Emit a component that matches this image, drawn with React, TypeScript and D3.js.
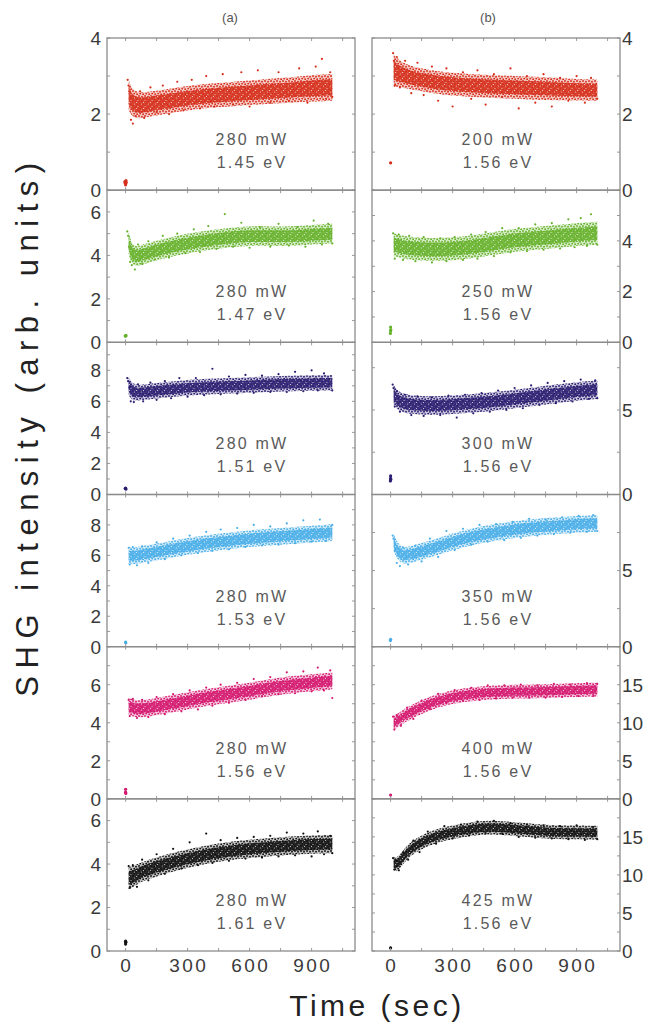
import React, { useRef, useEffect } from "react";
import * as d3 from "d3";

// time knots (sec) where the centre / half-width of each cloud was read
const knots = [15, 30, 60, 100, 200, 300, 400, 500, 600, 700, 800, 900, 1000];
const timeTicks = [0, 300, 600, 900];

// column (a): 280 mW, photon energy varies
const midA1 = [2.5, 2.3, 2.22, 2.25, 2.33, 2.42, 2.48, 2.52, 2.56, 2.6, 2.63, 2.68, 2.7];
const spreadA1 = [0.4, 0.35, 0.35, 0.33, 0.32, 0.32, 0.32, 0.32, 0.32, 0.33, 0.33, 0.35, 0.35];
const dotsA1 = [[10,2.9],[14,2.75],[18,2.6],[22,2.45],[26,1.85],[35,1.75],[48,1.95],[70,2.6],[90,1.9],[120,2.7],[150,2.05],[180,2.75],[210,2.0],[250,2.85],[280,2.1],[320,2.9],[360,2.15],[390,3.0],[430,2.2],[470,3.05],[520,2.25],[560,3.1],[600,2.2],[640,3.15],[700,2.3],[740,3.1],[790,2.35],[840,3.2],[880,2.3],[920,3.25],[950,3.45],[970,2.4],[990,3.1],[1000,2.45]];
const bgA1 = [[-4,0.22],[-1,0.18],[2,0.25],[0,0.14],[3,0.2]];

const midA2 = [4.6, 4.0, 3.95, 4.1, 4.35, 4.55, 4.7, 4.82, 4.9, 4.88, 4.88, 4.95, 5.0];
const spreadA2 = [0.55, 0.45, 0.45, 0.45, 0.45, 0.45, 0.45, 0.45, 0.45, 0.45, 0.45, 0.45, 0.45];
const dotsA2 = [[8,5.1],[12,4.9],[16,4.4],[22,3.7],[30,3.55],[45,3.35],[60,4.5],[80,3.6],[110,4.65],[140,3.8],[180,4.9],[210,3.9],[250,5.0],[290,4.1],[330,5.2],[360,4.15],[400,5.35],[440,4.3],[480,5.9],[520,4.4],[560,5.5],[600,4.35],[650,5.3],[700,4.4],[740,5.45],[790,4.45],[830,5.3],[870,4.4],[910,5.6],[950,4.5],[980,5.45],[1000,4.55]];
const bgA2 = [[-2,0.3],[0,0.28],[2,0.32]];

const midA3 = [7.0, 6.6, 6.55, 6.6, 6.75, 6.88, 6.95, 7.0, 7.05, 7.1, 7.15, 7.18, 7.2];
const spreadA3 = [0.6, 0.55, 0.5, 0.5, 0.5, 0.5, 0.5, 0.5, 0.5, 0.5, 0.5, 0.5, 0.5];
const dotsA3 = [[8,7.5],[12,7.3],[18,6.9],[25,6.0],[40,5.95],[60,7.1],[85,6.0],[120,7.2],[150,6.1],[190,7.3],[220,6.2],[260,7.5],[300,6.3],[340,7.5],[380,6.4],[420,8.1],[460,6.45],[500,7.6],[540,6.5],[580,7.7],[620,6.55],[660,7.65],[700,6.6],[740,7.75],[780,6.6],[820,7.9],[860,6.65],[900,8.0],[930,6.7],[960,7.8],[1000,6.7]];
const bgA3 = [[-2,0.38],[0,0.42],[2,0.35]];

const midA4 = [6.0, 5.95, 6.0, 6.1, 6.35, 6.6, 6.8, 6.95, 7.1, 7.2, 7.3, 7.4, 7.5];
const spreadA4 = [0.55, 0.55, 0.55, 0.55, 0.55, 0.55, 0.55, 0.55, 0.55, 0.55, 0.55, 0.55, 0.55];
const dotsA4 = [[15,6.5],[20,5.4],[35,6.55],[55,5.35],[80,6.6],[110,5.5],[150,6.85],[190,5.75],[230,7.1],[270,6.0],[310,7.3],[350,6.15],[390,7.55],[420,6.3],[460,7.7],[500,6.4],[540,7.8],[580,6.55],[620,8.0],[660,6.65],[700,7.9],[740,6.7],[780,8.1],[820,6.8],[860,8.3],[900,6.9],[940,8.35],[970,6.95],[1000,8.0]];
const bgA4 = [[0,0.3],[1,0.25]];

const midA5 = [4.85, 4.8, 4.72, 4.75, 4.95, 5.15, 5.35, 5.5, 5.65, 5.85, 6.0, 6.1, 6.2];
const spreadA5 = [0.45, 0.45, 0.45, 0.45, 0.45, 0.45, 0.45, 0.45, 0.45, 0.45, 0.45, 0.45, 0.45];
const dotsA5 = [[15,5.2],[20,4.35],[35,5.25],[55,4.25],[80,5.2],[110,4.3],[150,5.35],[190,4.45],[230,5.5],[270,4.6],[310,5.7],[350,4.7],[390,5.85],[420,4.9],[460,6.0],[500,5.05],[540,6.1],[580,5.2],[620,6.3],[660,5.4],[700,6.4],[740,5.5],[780,6.65],[820,5.55],[860,6.7],[900,5.65],[930,6.9],[960,5.7],[990,6.75],[1000,5.3]];
const bgA5 = [[0,0.35],[0,0.5],[1,0.28]];

const midA6 = [3.35, 3.4, 3.55, 3.72, 4.02, 4.25, 4.45, 4.6, 4.7, 4.78, 4.85, 4.9, 4.92];
const spreadA6 = [0.5, 0.5, 0.45, 0.45, 0.43, 0.42, 0.42, 0.42, 0.42, 0.42, 0.42, 0.42, 0.42];
const dotsA6 = [[15,3.9],[20,2.9],[35,3.95],[55,2.95],[80,4.2],[110,3.25],[150,4.45],[190,3.55],[230,4.7],[270,3.8],[310,5.0],[350,3.95],[390,5.4],[420,4.05],[460,5.1],[500,4.15],[540,5.2],[580,4.25],[620,5.25],[660,4.3],[700,5.3],[740,4.35],[780,5.45],[820,4.4],[860,5.4],[900,4.35],[930,5.5],[960,4.45],[990,5.3],[1000,4.5]];
const bgA6 = [[0,0.32],[0,0.45],[1,0.4]];

// column (b): 1.56 eV, power varies
const midB1 = [3.15, 3.1, 3.02, 2.95, 2.85, 2.78, 2.75, 2.72, 2.7, 2.68, 2.66, 2.64, 2.63];
const spreadB1 = [0.42, 0.38, 0.33, 0.3, 0.3, 0.3, 0.3, 0.3, 0.3, 0.3, 0.3, 0.28, 0.28];
const dotsB1 = [[12,3.6],[16,3.4],[20,2.75],[30,3.5],[45,2.7],[70,3.4],[100,2.55],[130,3.35],[160,2.5],[200,3.25],[230,2.35],[270,3.2],[300,2.2],[350,3.1],[390,2.4],[420,3.15],[460,2.25],[500,3.05],[540,2.45],[580,3.2],[620,2.15],[660,3.0],[700,2.3],[740,3.05],[780,2.2],[820,2.95],[860,2.35],[900,3.0],[940,2.3],[970,2.95],[1000,2.4]];
const bgB1 = [[0,0.72]];

const midB2 = [3.85, 3.82, 3.75, 3.7, 3.65, 3.68, 3.77, 3.9, 4.03, 4.1, 4.17, 4.25, 4.3];
const spreadB2 = [0.45, 0.45, 0.45, 0.45, 0.45, 0.45, 0.45, 0.45, 0.45, 0.45, 0.45, 0.45, 0.45];
const dotsB2 = [[12,4.3],[20,3.3],[40,4.25],[60,3.25],[90,4.2],[120,3.2],[160,4.15],[200,3.15],[240,4.1],[270,3.2],[310,4.15],[350,3.25],[390,4.25],[420,3.3],[460,4.35],[500,3.4],[540,4.5],[580,3.55],[620,4.5],[660,3.6],[700,4.65],[740,3.65],[780,4.7],[820,3.7],[860,4.85],[890,3.75],[920,4.9],[950,3.8],[970,5.05],[1000,3.85]];
const bgB2 = [[-1,0.35],[0,0.45],[0,0.6],[1,0.5]];

const midB3 = [5.9, 5.6, 5.4, 5.3, 5.25, 5.3, 5.4, 5.5, 5.65, 5.8, 5.95, 6.1, 6.2];
const spreadB3 = [0.6, 0.55, 0.55, 0.55, 0.55, 0.55, 0.55, 0.55, 0.55, 0.55, 0.55, 0.55, 0.55];
const dotsB3 = [[10,6.5],[14,6.3],[20,5.2],[30,6.1],[45,4.9],[70,5.9],[100,4.7],[130,5.8],[160,4.65],[200,5.75],[240,4.7],[280,5.85],[320,4.55],[360,5.9],[400,4.8],[440,6.0],[480,4.9],[520,6.15],[560,5.0],[600,6.3],[640,5.1],[680,6.45],[720,5.3],[760,6.6],[800,5.4],[840,6.7],[880,5.5],[920,6.8],[960,5.65],[990,6.75],[1000,5.7]];
const bgB3 = [[-1,0.8],[0,0.95],[0,1.1],[1,0.88]];

const midB4 = [6.9, 6.3, 5.95, 6.05, 6.45, 6.9, 7.25, 7.5, 7.7, 7.85, 7.95, 8.05, 8.1];
const spreadB4 = [0.55, 0.55, 0.55, 0.55, 0.55, 0.55, 0.55, 0.55, 0.55, 0.55, 0.55, 0.55, 0.55];
const dotsB4 = [[10,7.3],[14,7.1],[20,6.3],[30,5.5],[45,5.3],[60,6.5],[85,5.4],[120,6.65],[150,5.6],[190,7.1],[230,5.9],[270,7.6],[310,6.35],[350,7.75],[390,6.7],[430,8.0],[470,6.9],[510,8.05],[550,7.0],[590,8.2],[630,7.15],[670,8.4],[710,7.3],[750,8.35],[790,7.4],[830,8.5],[870,7.5],[910,8.6],[950,7.55],[980,8.65],[1000,7.6]];
const bgB4 = [[-1,0.4],[0,0.48]];

const midB5 = [10.0, 10.2, 10.8, 11.4, 12.7, 13.4, 13.8, 14.0, 14.1, 14.1, 14.2, 14.3, 14.35];
const spreadB5 = [0.9, 0.9, 0.9, 0.9, 0.9, 0.9, 0.9, 0.9, 0.9, 0.9, 0.9, 0.9, 0.9];
const dotsB5 = [[12,10.8],[18,9.1],[30,11.0],[50,9.6],[80,12.0],[110,10.5],[150,12.9],[190,11.8],[230,13.8],[270,12.6],[310,14.3],[350,12.9],[390,14.6],[430,13.0],[470,14.9],[510,13.2],[550,14.9],[590,13.3],[630,15.0],[670,13.3],[710,14.9],[750,13.3],[790,15.1],[830,13.4],[870,15.0],[910,13.5],[950,15.2],[980,13.5],[1000,15.1]];
const bgB5 = [[0,0.5]];

const midB6 = [11.5, 11.3, 12.3, 13.6, 15.0, 15.6, 16.1, 16.3, 16.0, 15.8, 15.6, 15.6, 15.55];
const spreadB6 = [0.9, 0.9, 0.9, 0.9, 0.9, 0.9, 0.9, 0.9, 0.9, 0.9, 0.9, 0.9, 0.9];
const dotsB6 = [[12,12.2],[18,10.7],[28,11.9],[40,10.6],[60,12.9],[85,12.0],[110,14.5],[140,13.0],[180,15.7],[220,14.1],[260,16.4],[300,14.8],[340,16.6],[380,15.2],[420,17.0],[460,15.5],[500,17.1],[540,15.4],[580,16.8],[620,15.0],[660,16.6],[700,14.9],[740,16.5],[780,14.8],[820,16.4],[860,14.7],[900,16.5],[940,14.6],[980,16.3],[1000,14.7]];
const bgB6 = [[0,0.4]];

const colors = ["#d52e1a", "#66b22c", "#2a1c70", "#4aaee8", "#d4186f", "#111111"];
const powers = ["280 mW", "280 mW", "280 mW", "280 mW", "280 mW", "280 mW", "200 mW", "250 mW", "300 mW", "350 mW", "400 mW", "425 mW"];
const energies = ["1.45 eV", "1.47 eV", "1.51 eV", "1.53 eV", "1.56 eV", "1.61 eV", "1.56 eV", "1.56 eV", "1.56 eV", "1.56 eV", "1.56 eV", "1.56 eV"];
const yMaxes = [4, 7, 9.8, 10, 8, 7, 4, 6, 9, 10, 20, 20];
const yLabelTicks = [[0,2,4],[0,2,4,6],[0,2,4,6,8],[0,2,4,6,8],[0,2,4,6],[0,2,4,6],[0,2,4],[0,2,4],[0,5],[0,5],[0,5,10,15],[0,5,10,15]];
const yMinorSteps = [1, 1, 1, 1, 1, 1, 1, 1, 2.5, 2.5, 2.5, 2.5];

const mids = [midA1, midA2, midA3, midA4, midA5, midA6, midB1, midB2, midB3, midB4, midB5, midB6];
const spreads = [spreadA1, spreadA2, spreadA3, spreadA4, spreadA5, spreadA6, spreadB1, spreadB2, spreadB3, spreadB4, spreadB5, spreadB6];
const dots = [dotsA1, dotsA2, dotsA3, dotsA4, dotsA5, dotsA6, dotsB1, dotsB2, dotsB3, dotsB4, dotsB5, dotsB6];
const bgs = [bgA1, bgA2, bgA3, bgA4, bgA5, bgA6, bgB1, bgB2, bgB3, bgB4, bgB5, bgB6];

const FONT = "Arial, 'Liberation Sans', sans-serif";

function App() {
  const svgRef = useRef(null);

  useEffect(() => {
    const svg = d3.select(svgRef.current);
    svg.selectAll("*").remove();

    const colX = [107, 372];
    const panelW = 248;
    const top = 38;
    const rowH = (951 - 38) / 6;

    const panels = d3.range(12).map((i) => ({
      col: i < 6 ? 0 : 1,
      row: i % 6,
      color: colors[i % 6],
      yMax: yMaxes[i],
      labelTicks: yLabelTicks[i],
      minor: yMinorSteps[i],
      power: powers[i],
      energy: energies[i],
      band: knots.map((t, k) => ({ t, m: mids[i][k], s: spreads[i][k] })),
      dots: dots[i],
      bg: bgs[i],
    }));

    const defs = svg.append("defs");
    // speckle textures so the dense clouds read as scattered points
    colors.forEach((c, k) => {
      const pat = defs.append("pattern").attr("id", `speck${k}`)
        .attr("patternUnits", "userSpaceOnUse").attr("width", 6).attr("height", 5);
      [[1, 1], [4, 1.8], [2.2, 3.6], [5.2, 4.3]].forEach(([cx, cy]) =>
        pat.append("circle").attr("cx", cx).attr("cy", cy).attr("r", 0.95).attr("fill", c));
    });
    const holes = defs.append("pattern").attr("id", "holes")
      .attr("patternUnits", "userSpaceOnUse").attr("width", 7).attr("height", 6);
    [[1.5, 2], [5, 4.5], [3.5, 0.5]].forEach(([cx, cy]) =>
      holes.append("circle").attr("cx", cx).attr("cy", cy).attr("r", 0.6).attr("fill", "#fff"));

    panels.forEach((p, i) => {
      const x0 = colX[p.col];
      const y0 = top + p.row * rowH;
      const x = d3.scaleLinear().domain([-90, 1110]).range([x0, x0 + panelW]);
      const y = d3.scaleLinear().domain([0, p.yMax]).range([y0 + rowH, y0]);

      defs.append("clipPath").attr("id", `clip${i}`)
        .append("rect").attr("x", x0).attr("y", y0).attr("width", panelW).attr("height", rowH);

      const g = svg.append("g");
      const cg = g.append("g").attr("clip-path", `url(#clip${i})`);

      // outer and inner parts of the dense cloud
      const outer = d3.area().curve(d3.curveBasis)
        .x((d) => x(d.t)).y0((d) => y(d.m - d.s)).y1((d) => y(d.m + d.s));
      const inner = d3.area().curve(d3.curveBasis)
        .x((d) => x(d.t)).y0((d) => y(d.m - d.s * 0.6)).y1((d) => y(d.m + d.s * 0.6));
      cg.append("path").attr("d", outer(p.band)).attr("fill", p.color).attr("opacity", 0.25);
      cg.append("path").attr("d", outer(p.band)).attr("fill", `url(#speck${p.row})`);
      cg.append("path").attr("d", inner(p.band)).attr("fill", p.color).attr("opacity", 0.85);
      cg.append("path").attr("d", inner(p.band)).attr("fill", "url(#holes)").attr("opacity", 0.7);

      cg.selectAll(".dot").data(p.dots).join("circle").attr("class", "dot")
        .attr("cx", (d) => x(d[0])).attr("cy", (d) => y(d[1])).attr("r", 1.1)
        .attr("fill", p.color);
      cg.selectAll(".bg").data(p.bg).join("circle").attr("class", "bg")
        .attr("cx", (d) => x(d[0])).attr("cy", (d) => y(d[1])).attr("r", 1.6)
        .attr("fill", p.color);

      // inward minor ticks on all four sides
      const tickC = "#9a9a9a";
      const xt = d3.range(0, 1101, 150);
      g.selectAll(".xtb").data(xt).join("line").attr("class", "xtb")
        .attr("x1", (d) => x(d)).attr("x2", (d) => x(d))
        .attr("y1", y0 + rowH).attr("y2", y0 + rowH - 3).attr("stroke", tickC);
      g.selectAll(".xtt").data(xt).join("line").attr("class", "xtt")
        .attr("x1", (d) => x(d)).attr("x2", (d) => x(d))
        .attr("y1", y0).attr("y2", y0 + 3).attr("stroke", tickC);
      const yt = d3.range(0, p.yMax + 0.001, p.minor);
      g.selectAll(".ytl").data(yt).join("line").attr("class", "ytl")
        .attr("x1", x0).attr("x2", x0 + 3)
        .attr("y1", (d) => y(d)).attr("y2", (d) => y(d)).attr("stroke", tickC);
      g.selectAll(".ytr").data(yt).join("line").attr("class", "ytr")
        .attr("x1", x0 + panelW).attr("x2", x0 + panelW - 3)
        .attr("y1", (d) => y(d)).attr("y2", (d) => y(d)).attr("stroke", tickC);

      g.append("rect").attr("x", x0).attr("y", y0).attr("width", panelW).attr("height", rowH)
        .attr("fill", "none").attr("stroke", "#8c8c8c").attr("stroke-width", 1.3);

      // y tick labels: left column on the left, right column on the right
      g.selectAll(".ylab").data(p.labelTicks).join("text").attr("class", "ylab")
        .attr("x", p.col === 0 ? x0 - 6 : x0 + panelW + 2)
        .attr("y", (d) => y(d))
        .attr("dy", "0.36em")
        .attr("text-anchor", p.col === 0 ? "end" : "start")
        .attr("font-family", FONT).attr("font-size", 19).attr("fill", "#3a3a3a")
        .text((d) => d);

      // annotation
      const tx = p.col === 0 ? x0 + 145 : x0 + 126;
      g.append("text").attr("x", tx).attr("y", y0 + 107).attr("text-anchor", "middle")
        .attr("font-family", FONT).attr("font-size", 16).attr("letter-spacing", 2.2)
        .attr("fill", "#5a5a5a").text(p.power);
      g.append("text").attr("x", tx).attr("y", y0 + 130).attr("text-anchor", "middle")
        .attr("font-family", FONT).attr("font-size", 16).attr("letter-spacing", 2.2)
        .attr("fill", "#5a5a5a").text(p.energy);

      if (p.row === 5) {
        g.selectAll(".xlab").data(timeTicks).join("text").attr("class", "xlab")
          .attr("x", (d) => x(d) + 1.2).attr("y", y0 + rowH + 21)
          .attr("text-anchor", "middle")
          .attr("font-family", FONT).attr("font-size", 19).attr("letter-spacing", 2.5)
          .attr("fill", "#3a3a3a").text((d) => d);
      }
    });

    svg.append("text").attr("x", 230).attr("y", 22).attr("text-anchor", "middle")
      .attr("font-family", FONT).attr("font-size", 13).attr("fill", "#555").text("(a)");
    svg.append("text").attr("x", 488).attr("y", 22).attr("text-anchor", "middle")
      .attr("font-family", FONT).attr("font-size", 13).attr("fill", "#555").text("(b)");

    svg.append("text").attr("x", 377).attr("y", 1016).attr("text-anchor", "middle")
      .attr("font-family", FONT).attr("font-size", 30).attr("letter-spacing", 3.5)
      .attr("fill", "#222").text("Time (sec)");
    svg.append("text").attr("transform", "translate(38,426) rotate(-90)")
      .attr("text-anchor", "middle")
      .attr("font-family", FONT).attr("font-size", 31).attr("letter-spacing", 7.5)
      .attr("fill", "#222").text("SHG intensity (arb. units)");
  }, []);

  return (
    <div style={{ position: "absolute", left: 0, top: 0 }}>
      <svg ref={svgRef} width={667} height={1025} style={{ display: "block", background: "#fff" }} />
    </div>
  );
}

export default App;
